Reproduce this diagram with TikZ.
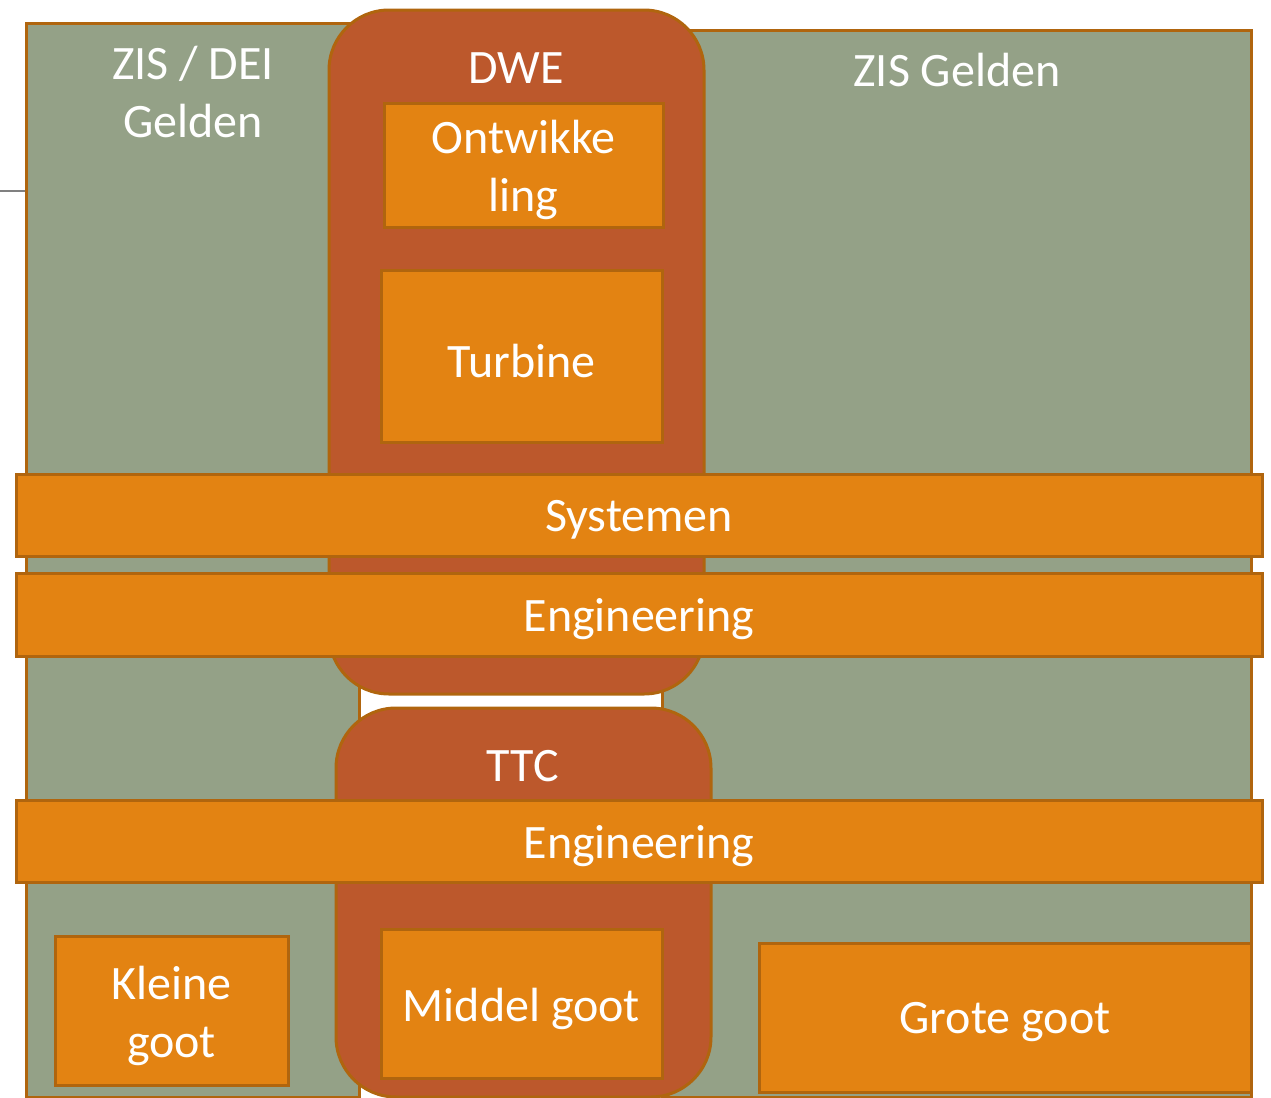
\documentclass[tikz,border=0pt]{standalone}
\usepackage{fontspec}
\setmainfont{Carlito}
\usetikzlibrary{fit}

\definecolor{zisgreen}{RGB}{148,161,135}
\definecolor{dwebrown}{RGB}{188,88,44}
\definecolor{blockorange}{RGB}{227,131,18}
\definecolor{edgebrown}{RGB}{176,101,14}

\tikzset{every picture/.style={line width=1.5pt}}
\tikzset{
	area/.style={draw=edgebrown, fill=zisgreen, inner sep=0pt},
	pillar/.style={draw=edgebrown, fill=dwebrown, inner sep=0pt, rounded corners=30pt},
	block/.style={draw=edgebrown, fill=blockorange, inner sep=0pt},
	lbl/.style={text=white, align=center, font=\fontsize{24}{29}\selectfont},
	blocklbl/.style={lbl, yshift=-2.5pt},
	stubline/.style={draw=gray, line width=0.6pt}
}

\begin{document}
\begin{tikzpicture}[x=0.5pt,y=0.5pt,yscale=-1,xscale=1]
	\useasboundingbox (0,0) rectangle (1271,1098);
	
	%green money areas
	\node[area, fit={(26,23) (359,1097)}] (zisdei) {};
	\node[area, fit={(662,30) (1251,1097)}] (zis) {};
	
	%stub on the left
	\coordinate (stub) at (0,191);
	\draw[stubline] (stub) -- (stub -| zisdei.west);
	
	%DWE and TTC pillars
	\node[pillar, fit={(329,10) (704,694)}] (dwe) {};
	\node[pillar, fit={(336,708) (711,1097)}] (ttc) {};
	
	%blocks inside DWE
	\node[block, fit={(384,103) (663,227)}] (ontw) {};
	\node[block, fit={(381,270) (662,442)}] (turbine) {};
	
	%bars across
	\node[block, fit={(16,474) (1262,556)}] (systemen) {};
	\node[block, fit={(16,573) (1262,656)}] (eng1) {};
	\node[block, fit={(16,800) (1262,882)}] (eng2) {};
	
	%gutters
	\node[block, fit={(55,936) (288,1085)}] (kleine) {};
	\node[block, fit={(381,929) (662,1078)}] (middel) {};
	\node[block, fit={(759,943) (1251,1092)}] (grote) {};
	
	%labels
	\node[lbl] (zisdeitxt) at (193,92) {ZIS / DEI\\Gelden};
	\node[lbl] (zistxt) at (957,70) {ZIS Gelden};
	\node[lbl] (dwetxt) at (516,68) {DWE};
	\node[lbl] (ttctxt) at (523,766) {TTC};
	\node[blocklbl] (ontwtxt) at (ontw.center) {Ontwikke\\ling};
	\node[blocklbl] (turbinetxt) at (turbine.center) {Turbine};
	\node[blocklbl] (systementxt) at (systemen.center) {Systemen};
	\node[blocklbl] (eng1txt) at (eng1.center) {Engineering};
	\node[blocklbl] (eng2txt) at (eng2.center) {Engineering};
	\node[blocklbl] (kleinetxt) at (kleine.center) {Kleine\\goot};
	\node[blocklbl] (middeltxt) at (middel.center) {Middel goot};
	\node[blocklbl] (grotetxt) at (grote.center) {Grote goot};
	
\end{tikzpicture}
\end{document}
